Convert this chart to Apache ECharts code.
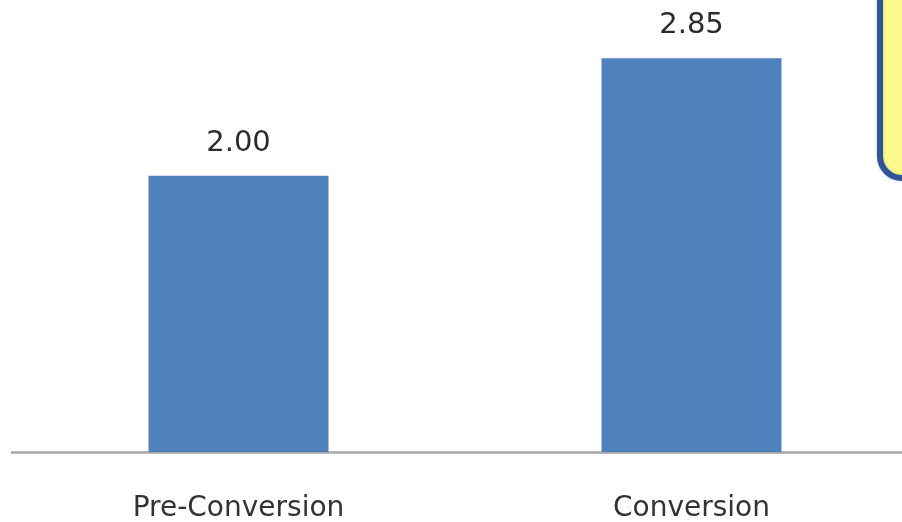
<!DOCTYPE html>
<html><head><meta charset="utf-8">
<script src="https://cdn.jsdelivr.net/npm/echarts@6/dist/echarts.min.js"></script>
<style>html,body{margin:0;padding:0;background:#fff}#c{width:902px;height:522px}</style>
</head><body><div id="c"></div>
<script>
var categories = ['Pre-Conversion', 'Conversion'];
var values = [2.00, 2.85];

var chart = echarts.init(document.getElementById('c'), null, {renderer: 'canvas'});
chart.setOption({
  animation: false,
  backgroundColor: '#ffffff',
  grid: {left: 12, width: 906, top: 37.5, bottom: 70, containLabel: false, outerBoundsMode: 'none'},
  xAxis: {
    type: 'category', data: categories,
    axisLine: {show: true, lineStyle: {color: '#a6a6a6', width: 2.5}},
    axisTick: {show: false},
    axisLabel: {color: '#333333', fontFamily: 'DejaVu Sans', fontSize: 28, margin: 43}
  },
  yAxis: {
    type: 'value', min: 0, max: 3, show: false,
    splitLine: {show: false}
  },
  series: [{
    type: 'bar', data: values, barWidth: 180,
    itemStyle: {color: '#4f81bd'},
    label: {show: true, position: 'top', distance: 18, color: '#2b2b2b',
      fontFamily: 'DejaVu Sans', fontSize: 29,
      formatter: function (p) { return p.value.toFixed(2); }}
  }],
  graphic: [{
    type: 'rect', z: 10,
    shape: {x: 880, y: -40, width: 80, height: 218, r: 22},
    style: {fill: '#fdf98a', stroke: '#2f5594', lineWidth: 6,
      shadowColor: 'rgba(120,140,180,0.5)', shadowBlur: 3}
  }]
});
</script></body></html>
